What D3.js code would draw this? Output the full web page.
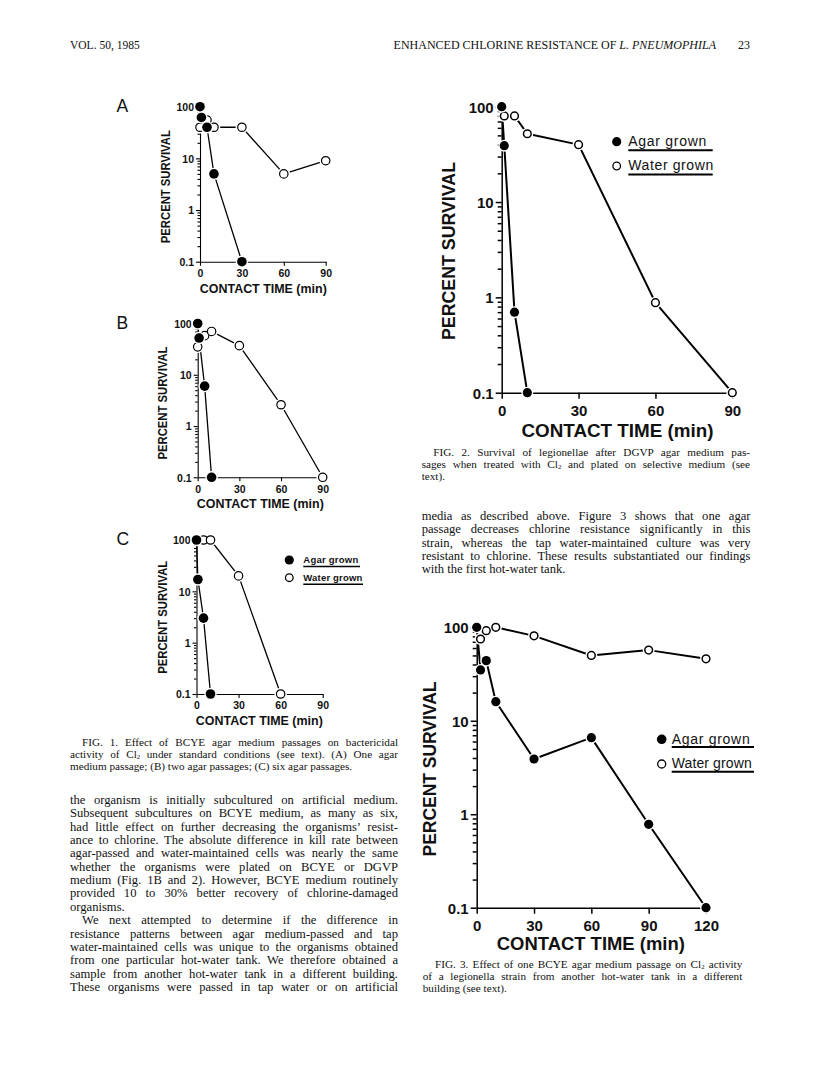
<!DOCTYPE html>
<html>
<head>
<meta charset="utf-8">
<script src="https://cdn.jsdelivr.net/npm/d3@7"></script>
<style>
  body { margin: 0; background: #fff; }
  svg { display: block; }
  .serif { font-family: "Liberation Serif", "Times New Roman", serif; fill: #111; }
  .sans { font-family: "Liberation Sans", Arial, sans-serif; fill: #111; }
</style>
</head>
<body>
<div id="page"></div>
<script>
"use strict";

// tick values
const minutes90 = [0, 30, 60, 90],
      minutes120 = [0, 30, 60, 90, 120],
      decades = [0.1, 1, 10, 100];

// percent survival vs contact time (min)
const fig1aAgar  = [[0, 100], [1, 62], [5, 40], [10, 5], [30, 0.1]];
const fig1aWater = [[0, 40], [5, 55], [10, 40], [30, 40], [60, 5], [90, 9]];
const fig1bAgar  = [[0, 100], [1, 52], [5, 6], [10, 0.1]];
const fig1bWater = [[0, 35], [5, 58], [10, 70], [30, 37], [60, 2.6], [90, 0.1]];
const fig1cAgar  = [[0, 100], [1, 17], [5, 3], [10, 0.1]];
const fig1cWater = [[5, 100], [10, 100], [30, 20], [60, 0.1]];
const fig2Agar   = [[0, 100], [1, 39], [5, 0.7], [10, 0.1]];
const fig2Water  = [[1, 80], [5, 80], [10, 52], [30, 40], [60, 0.88], [90, 0.1]];
const fig3Agar   = [[0, 100], [2, 35], [5, 44], [10, 16], [30, 3.9], [60, 6.6], [90, 0.78], [120, 0.1]];
const fig3Water  = [[2, 75], [5, 92], [10, 100], [30, 81], [60, 50], [90, 57], [120, 46]];
const seriesNames = ["Agar grown", "Water grown"];

const svg = d3.select("#page").append("svg")
  .attr("width", 816).attr("height", 1075)
  .attr("viewBox", "0 0 816 1075");

// log ticks 0.1..100 with minor ticks
const logTicks = [];
decades.slice(0, 3).forEach(function(d) {
  for (let k = 1; k < 10; k++) logTicks.push(+(d * k).toPrecision(3));
});
logTicks.push(100);
const isMajor = v => Math.abs(Math.log10(v) - Math.round(Math.log10(v))) < 1e-6;

const small = { tickFont: 10.5, titleFont: 12.5, r: 4.8, lw: 1.3, aw: 1.1, ow: 1.2,
                major: 4, minor: 2.5, xTick: 4, labelGap: 6, xLabelDy: 11.5 };
const big = { tickFont: 15, titleFont: 18.5, r: 4.6, lw: 2, aw: 1.5, ow: 1.5,
              major: 6, minor: 4, xTick: 6, labelGap: 8, xLabelDy: 18 };

const charts = [
  Object.assign({}, small, { agar: fig1aAgar, water: fig1aWater, xTicks: minutes90,
    xRange: [200, 325.7], yRange: [261.7, 106.7], yTitle: [165, 186.7, 113], xTitle: [263.3, 288.3, 127] }),
  Object.assign({}, small, { agar: fig1bAgar, water: fig1bWater, xTicks: minutes90,
    xRange: [197.7, 322.7], yRange: [477.3, 323.5], yTitle: [162, 403, 113], xTitle: [260.3, 503.3, 127] }),
  Object.assign({}, small, { agar: fig1cAgar, water: fig1cWater, xTicks: minutes90,
    xRange: [196.5, 322.7], yRange: [694, 540], yTitle: [162.5, 617.3, 113], xTitle: [259.3, 720, 127] }),
  Object.assign({}, big, { agar: fig2Agar, water: fig2Water, xTicks: minutes90,
    xRange: [501.7, 732.3], yRange: [392.7, 106.7], yTitle: [448.3, 251, 178], xTitle: [617.5, 430, 192] }),
  Object.assign({}, big, { agar: fig3Agar, water: fig3Water, xTicks: minutes120,
    xRange: [476.7, 706], yRange: [907.7, 627.3], yTitle: [429, 769, 175], xTitle: [590.8, 943.3, 188] })
];

function drawChart(c) {
  const x = d3.scaleLinear().domain([0, c.xTicks[c.xTicks.length - 1]]).range(c.xRange),
        y = d3.scaleLog().domain([0.1, 100]).range(c.yRange);
  const g = svg.append("g");

  // y axis
  const ya = g.append("g")
    .attr("transform", "translate(" + c.xRange[0] + ",0)")
    .call(d3.axisLeft(y).tickValues(logTicks).tickSizeOuter(0)
      .tickFormat(v => isMajor(v) ? d3.format("~g")(v) : ""));
  ya.attr("font-family", null).attr("font-size", null);
  ya.selectAll(".tick line")
    .attr("x2", v => isMajor(v) ? -c.major : -c.minor)
    .attr("stroke", "#000").attr("stroke-width", c.aw);
  ya.selectAll(".tick text")
    .attr("x", -c.labelGap).attr("dy", "0.36em")
    .attr("class", "sans").style("font-weight", "bold").style("font-size", c.tickFont + "px");
  ya.select(".domain").attr("stroke", "#000").attr("stroke-width", c.aw);

  // x axis
  const xa = g.append("g")
    .attr("transform", "translate(0," + c.yRange[0] + ")")
    .call(d3.axisBottom(x).tickValues(c.xTicks).tickSize(c.xTick).tickSizeOuter(0));
  xa.attr("font-family", null).attr("font-size", null);
  xa.selectAll(".tick line").attr("stroke", "#000").attr("stroke-width", c.aw);
  xa.selectAll(".tick text")
    .attr("y", c.xLabelDy).attr("dy", "0.36em")
    .attr("class", "sans").style("font-weight", "bold").style("font-size", c.tickFont + "px");
  xa.select(".domain").attr("stroke", "#000").attr("stroke-width", c.aw);

  // titles
  g.append("text").attr("class", "sans")
    .attr("transform", "translate(" + c.yTitle[0] + "," + c.yTitle[1] + ") rotate(-90)")
    .attr("text-anchor", "middle").attr("dy", "0.36em")
    .attr("textLength", c.yTitle[2]).attr("lengthAdjust", "spacingAndGlyphs")
    .style("font-weight", "bold").style("font-size", c.titleFont + "px")
    .text("PERCENT SURVIVAL");
  g.append("text").attr("class", "sans")
    .attr("x", c.xTitle[0]).attr("y", c.xTitle[1])
    .attr("text-anchor", "middle").attr("dy", "0.36em")
    .attr("textLength", c.xTitle[2]).attr("lengthAdjust", "spacingAndGlyphs")
    .style("font-weight", "bold").style("font-size", c.titleFont + "px")
    .text("CONTACT TIME (min)");

  // lines
  const line = d3.line().x(d => x(d[0])).y(d => y(d[1]));
  [c.water, c.agar].forEach(function(s) {
    g.append("path").datum(s).attr("d", line)
      .attr("fill", "none").attr("stroke", "#000").attr("stroke-width", c.lw)
      .attr("stroke-linejoin", "round");
  });

  // markers, water first so agar dots sit on top
  [[c.water, false], [c.agar, true]].forEach(function(pair) {
    const m = g.append("g");
    m.selectAll("circle.halo").data(pair[0]).join("circle").attr("class", "halo")
      .attr("cx", d => x(d[0])).attr("cy", d => y(d[1]))
      .attr("r", c.r + 1.4).attr("fill", "#fff");
    m.selectAll("circle.dot").data(pair[0]).join("circle").attr("class", "dot")
      .attr("cx", d => x(d[0])).attr("cy", d => y(d[1]))
      .attr("r", pair[1] ? c.r : c.r - c.ow / 2)
      .attr("fill", pair[1] ? "#000" : "#fff")
      .attr("stroke", "#000").attr("stroke-width", pair[1] ? 0 : c.ow);
  });
}
charts.forEach(drawChart);

// legends
const legends = [
  { x: 289.3, ys: [560, 577.7], tx: 303.3, r: 4.6, font: 9.5, bold: true, lens: [55, 59], ends: [360, 363], uw: 1.4, base: 3.3, under: 6.5 },
  { x: 616.7, ys: [141.7, 166], tx: 628.3, r: 4.6, font: 14, bold: false, lens: [78, 85], ends: [712.7, 712.7], uw: 2, base: 4.3, under: 8.5 },
  { x: 661.7, ys: [739.3, 764], tx: 671.7, r: 4.8, font: 14, bold: false, lens: [78, 80], ends: [754, 754], uw: 2, base: 4.3, under: 7.8 }
];
legends.forEach(function(l) {
  const g = svg.append("g");
  g.selectAll("circle").data(seriesNames).join("circle")
    .attr("cx", l.x).attr("cy", (d, i) => l.ys[i])
    .attr("r", (d, i) => i ? l.r - 0.8 : l.r)
    .attr("fill", (d, i) => i ? "#fff" : "#000")
    .attr("stroke", "#000").attr("stroke-width", (d, i) => i ? 1.3 : 0);
  g.selectAll("text").data(seriesNames).join("text").attr("class", "sans")
    .attr("x", l.tx).attr("y", (d, i) => l.ys[i] + l.base)
    .attr("textLength", (d, i) => l.lens[i]).attr("lengthAdjust", "spacing")
    .style("font-size", l.font + "px").style("font-weight", l.bold ? "bold" : "normal")
    .text(d => d);
  g.selectAll("line").data(seriesNames).join("line")
    .attr("x1", l.tx).attr("x2", (d, i) => l.ends[i])
    .attr("y1", (d, i) => l.ys[i] + l.under).attr("y2", (d, i) => l.ys[i] + l.under)
    .attr("stroke", "#000").attr("stroke-width", l.uw);
});

// panel letters
[["A", 106], ["B", 323], ["C", 539]].forEach(function(p) {
  svg.append("text").attr("class", "sans")
    .attr("x", 116.5).attr("y", p[1] + 6.3)
    .style("font-size", "17.5px").text(p[0]);
});

// running head
svg.append("text").attr("class", "serif").attr("x", 70).attr("y", 49)
  .style("font-size", "11.5px").text("VOL. 50, 1985");
const head = svg.append("text").attr("class", "serif").attr("x", 716).attr("y", 49)
  .attr("text-anchor", "end").style("font-size", "12px");
head.append("tspan").text("ENHANCED CHLORINE RESISTANCE OF ");
head.append("tspan").style("font-style", "italic").text("L. PNEUMOPHILA");
svg.append("text").attr("class", "serif").attr("x", 750).attr("y", 49)
  .attr("text-anchor", "end").style("font-size", "12px").text("23");

// text blocks: [x, text, justified]
function block(lines, y0, step, size, right) {
  lines.forEach(function(l, i) {
    const t = svg.append("text").attr("class", "serif")
      .attr("x", l[0]).attr("y", y0 + i * step).style("font-size", size + "px");
    const parts = l[1].split("\u2082");
    parts.forEach(function(p, j) {
      if (j > 0) {
        t.append("tspan").attr("dy", 1.2).style("font-size", (size * 0.6) + "px").text("2");
        t.append("tspan").attr("dy", -1.2).text(p);
      } else {
        t.append("tspan").text(p);
      }
    });
    if (l[2]) {
      const nat = t.node().getComputedTextLength(),
            n = (l[1].match(/ /g) || []).length;
      if (n) t.style("word-spacing", ((right - l[0] - nat) / n) + "px");
    }
  });
}

const fig1Caption = [
  [82, "FIG. 1. Effect of BCYE agar medium passages on bactericidal", true],
  [70, "activity of Cl\u2082 under standard conditions (see text). (A) One agar", true],
  [70, "medium passage; (B) two agar passages; (C) six agar passages.", false]
];
const leftBody = [
  [70, "the organism is initially subcultured on artificial medium.", true],
  [70, "Subsequent subcultures on BCYE medium, as many as six,", true],
  [70, "had little effect on further decreasing the organisms\u2019 resist-", true],
  [70, "ance to chlorine. The absolute difference in kill rate between", true],
  [70, "agar-passed and water-maintained cells was nearly the same", true],
  [70, "whether the organisms were plated on BCYE or DGVP", true],
  [70, "medium (Fig. 1B and 2). However, BCYE medium routinely", true],
  [70, "provided 10 to 30% better recovery of chlorine-damaged", true],
  [70, "organisms.", false],
  [82, "We next attempted to determine if the difference in", true],
  [70, "resistance patterns between agar medium-passed and tap", true],
  [70, "water-maintained cells was unique to the organisms obtained", true],
  [70, "from one particular hot-water tank. We therefore obtained a", true],
  [70, "sample from another hot-water tank in a different building.", true],
  [70, "These organisms were passed in tap water or on artificial", true]
];
const fig2Caption = [
  [433.3, "FIG. 2. Survival of legionellae after DGVP agar medium pas-", true],
  [421.7, "sages when treated with Cl\u2082 and plated on selective medium (see", true],
  [421.7, "text).", false]
];
const rightBody = [
  [421.7, "media as described above. Figure 3 shows that one agar", true],
  [421.7, "passage decreases chlorine resistance significantly in this", true],
  [421.7, "strain, whereas the tap water-maintained culture was very", true],
  [421.7, "resistant to chlorine. These results substantiated our findings", true],
  [421.7, "with the first hot-water tank.", false]
];
const fig3Caption = [
  [435, "FIG. 3. Effect of one BCYE agar medium passage on Cl\u2082 activity", true],
  [422.7, "of a legionella strain from another hot-water tank in a different", true],
  [422.7, "building (see text).", false]
];

block(fig1Caption, 746, 12.2, 11.2, 398);
block(leftBody, 804, 13.35, 12.6, 398);
block(fig2Caption, 455.7, 12.2, 11.2, 750);
block(rightBody, 519.7, 13.4, 12.6, 750.5);
block(fig3Caption, 967.5, 12.2, 11.2, 742.3);
</script>
</body>
</html>
